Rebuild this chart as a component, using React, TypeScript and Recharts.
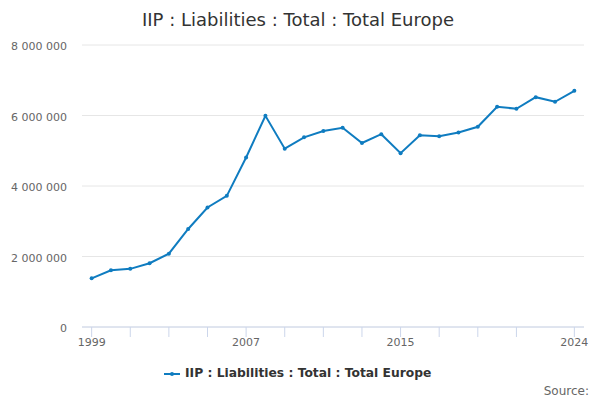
import { LineChart, Line, XAxis, YAxis, CartesianGrid } from 'recharts';

const years = [
  1999, 2000, 2001, 2002, 2003, 2004, 2005, 2006, 2007, 2008, 2009, 2010, 2011,
  2012, 2013, 2014, 2015, 2016, 2017, 2018, 2019, 2020, 2021, 2022, 2023, 2024,
];
const liabilities = [
  1380000, 1610000, 1650000, 1810000, 2080000, 2780000, 3390000, 3720000, 4810000,
  5990000, 5060000, 5380000, 5560000, 5650000, 5220000, 5470000, 4930000, 5440000,
  5410000, 5520000, 5680000, 6250000, 6190000, 6520000, 6390000, 6700000,
];
const xTicks = [1999, 2001, 2003, 2005, 2007, 2009, 2011, 2013, 2015, 2017, 2019, 2021, 2024];
const xLabels = [1999, 2007, 2015, 2024];
const yTicks = [0, 2000000, 4000000, 6000000, 8000000];

const title = 'IIP : Liabilities : Total : Total Europe';
const seriesName = 'IIP : Liabilities : Total : Total Europe';

const data = years.map((year, i) => ({ year, value: liabilities[i] }));

const blue = '#0f7cc0';
const axisColor = '#ccd6eb';

// 8000000 -> "8 000 000"
const spaced = (n: number) => String(n).replace(/\B(?=(\d{3})+(?!\d))/g, ' ');

// plain <text> so the spaced numbers don't get wrapped
function YTick(props: any) {
  const { x, y, payload } = props;
  return (
    <text x={x} y={y} dy={5} textAnchor="end" fontSize={11} fill="#666">
      {spaced(Number(payload.value))}
    </text>
  );
}

export default function App() {
  return (
    <div
      style={{
        position: 'absolute',
        left: 0,
        top: 0,
        width: 600,
        height: 400,
        fontFamily: '"DejaVu Sans", sans-serif',
        background: '#fff',
      }}
    >
      <div
        style={{
          position: 'absolute',
          left: 0,
          top: 9,
          width: 596,
          textAlign: 'center',
          fontSize: 18,
          lineHeight: '21px',
          color: '#333',
        }}
      >
        {title}
      </div>

      <LineChart width={600} height={400} data={data} margin={{ top: 45, right: 16, bottom: 43, left: 22 }}>
        <CartesianGrid vertical={false} stroke="#e6e6e6" />
        <XAxis
          dataKey="year"
          type="number"
          domain={[1998.5, 2024.5]}
          ticks={xTicks}
          interval={0}
          height={30}
          tickFormatter={(v) => (xLabels.includes(Number(v)) ? String(v) : '')}
          tick={{ fontSize: 11, fill: '#666' }}
          tickSize={10}
          tickMargin={1}
          tickLine={{ stroke: axisColor }}
          axisLine={{ stroke: axisColor }}
        />
        <YAxis
          domain={[0, 8000000]}
          ticks={yTicks}
          width={60}
          tickLine={false}
          axisLine={false}
          tickMargin={9}
          tick={<YTick />}
        />
        <Line
          type="linear"
          dataKey="value"
          stroke={blue}
          strokeWidth={2}
          dot={{ r: 2, fill: blue, stroke: blue, strokeWidth: 0 }}
          isAnimationActive={false}
        />
      </LineChart>

      <div
        style={{
          position: 'absolute',
          left: 164,
          top: 366,
          display: 'flex',
          alignItems: 'center',
          fontSize: 12.3,
          fontWeight: 'bold',
          lineHeight: '15px',
          color: '#333',
        }}
      >
        <svg width={21} height={15}>
          <line x1={0} y1={8} x2={16} y2={8} stroke={blue} strokeWidth={2} />
          <circle cx={8} cy={8} r={2} fill={blue} />
        </svg>
        <span>{seriesName}</span>
      </div>

      <div
        style={{
          position: 'absolute',
          right: 11,
          top: 384,
          fontSize: 12,
          lineHeight: '14px',
          color: '#666',
        }}
      >
        Source:
      </div>
    </div>
  );
}
